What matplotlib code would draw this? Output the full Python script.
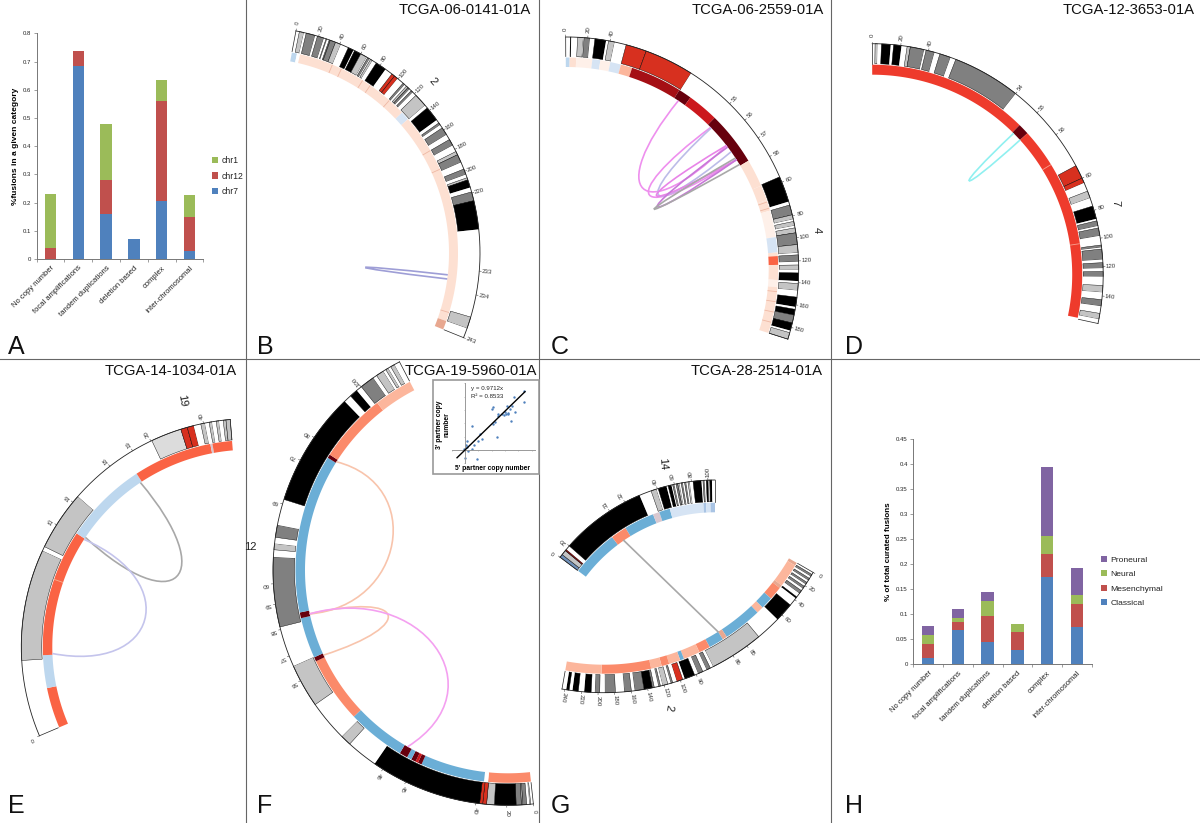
import numpy as np
import matplotlib
matplotlib.use("Agg")
import matplotlib.pyplot as plt
from matplotlib.patches import PathPatch, Rectangle
from matplotlib.path import Path

plt.rcParams["font.family"] = ["Liberation Sans", "DejaVu Sans"]

W, H = 1200, 823

# bar panels
cats = ["No copy number", "focal amplifications", "tandem duplications",
        "deletion based", "complex", "inter-chromosomal"]
a_chr7 = [0, 0.685, 0.16, 0.07, 0.205, 0.03]
a_chr12 = [0.038, 0.052, 0.12, 0, 0.355, 0.12]
a_chr1 = [0.193, 0, 0.2, 0, 0.073, 0.077]
h_classical = [0.012, 0.069, 0.045, 0.029, 0.174, 0.075]
h_mesenchymal = [0.028, 0.016, 0.052, 0.035, 0.046, 0.046]
h_neural = [0.018, 0.007, 0.03, 0.017, 0.036, 0.018]
h_proneural = [0.018, 0.018, 0.018, 0, 0.139, 0.053]

# inset scatter F
sc_x = [0.12, 0.05, 0.12, -0.05, 0.2, 0.5, 0.55, 0, 0.87, 1.12, 1.25, 1, 0.7, 2.38, 2.12,
        2.05, 2.25, 2.12, 2.45, 2.5, 2.75, 3, 3.12, 3.25, 3.45, 3.37, 3.55, 3.7, 3.75,
        4.45, 4.45, 2.9, 3.05, 3.2]
sc_y = [0.7, 0.4, 0.25, 0.08, -0.05, 0.08, 1.82, -0.6, -0.68, 1.2, 0.83, 0.7, 0.4, 0.95,
        3.2, 3.08, 2.08, 1.95, 2.58, 2.7, 2.7, 2.82, 3.32, 2.7, 2.2, 3.08, 3.32, 3.95, 2.82,
        3.58, 4.45, 2.6, 2.7, 2.75]
fit_x = [-0.6, 4.5]
fit_slope = 0.9712

# chromosome 2, sample 0141
b_mb = [0, 20, 40, 60, 80, 100, 120, 140, 160, 180, 200, 220, 227, 233, 234, 243]
b_deg = [10.7, 16.6, 22.3, 28.2, 33.9, 39.6, 45.2, 50.9, 57, 62.7, 68.8, 74.6, 84, 94.6, 100.7, 112]
b_labels = ["0", "20", "40", "60", "80", "100", "120", "140", "160", "180", "200", "220", "", "233", "234", "243"]
b_edges = [0, 3, 7, 9, 17, 19, 25, 27, 28, 30, 31, 36, 41, 48, 53, 54, 60, 66, 67, 69, 70, 72, 76, 86, 93, 96,
           99.5, 106, 108, 110, 112, 114, 116, 118, 122, 134, 137, 150, 153, 155, 158, 165, 170, 176, 182,
           185, 192, 198, 203, 206, 208, 215, 219, 221.5, 227, 238.6, 241, 243]
b_tones = "wlwdwdwdwddlwkwklwdwlwkwrrwdwldwdwlwkwdwdwdwldwdwlkwdkwlw"
b_heat = [0, 5, 8, 124.6, 133.4, 241, 243]
b_heat_c = "qwauan"
b_marks = [41, 50.5, 74, 83, 107, 170, 190, 239]

# chromosome 4, sample 2559
c_mb = [0, 20, 40, 55, 56, 57, 58, 60, 80, 100, 120, 140, 160, 180, 191]
c_deg = [-0.25, 5.2, 10.8, 44.6, 50.1, 55.6, 61, 68, 76.8, 82.2, 88, 93.4, 98.9, 104.6, 107.6]
c_labels = ["0", "20", "40", "55", "56", "57", "58", "60", "80", "100", "120", "140", "160", "180", ""]
c_edges = [0, 4.2, 5, 10.8, 16, 16.7, 22, 26.4, 36.4, 38.6, 40.5, 41.8, 44.1, 49.6, 59.6, 71.6, 73.6, 79.3,
           83, 85, 89, 91, 95.6, 106, 113, 114.8, 120.7, 123.7, 128, 131, 138.5, 140.7, 147, 153, 161.8,
           163.9, 169, 176, 183, 184.9, 191]
c_tones = "wkwlwdwkwlwrrwkwdlwlwldlwdwlwkwlwkwkdkwl"
c_heat = [0, 3.9, 10.4, 26.4, 34.2, 40.5, 41.8, 43.2, 49.5, 51.1, 54.9, 57.67, 59.66, 66.8, 73.6, 96.7,
          111.4, 114.8, 123.3, 138.5, 145.6, 191]
c_heat_c = "qavuvusDKRKaaavuaeava"
c_marks = [68, 72, 150, 160, 170, 180]
c_links = [(50.1, 56.4), (55.16, 57.3), (55.2, 56.8), (56.4, 57.3), (56.5, 57.3), (57.6, 57.2)]
c_apex = [(43.5, 111), (48.2, 111), (51.1, 118), (50.8, 116), (55.5, 110), (55.6, 106)]
c_link_c = ["#ee90ee", "#ee90ee", "#bcbce8", "#e884e8", "#c878d8", "#a8a8a8"]

# chromosome 7, sample 3653
d_mb = [0, 20, 40, 54, 55, 56, 60, 80, 100, 120, 140, 159]
d_deg = [0, 7.1, 14.1, 38.4, 45.5, 52.7, 65.3, 73.8, 80.9, 88, 95.3, 102.2]
d_labels = ["0", "20", "40", "54", "55", "56", "60", "80", "100", "120", "140", ""]
d_edges = [0, 2, 3.7, 6.5, 13, 15, 20.6, 24.6, 26.9, 36.9, 38.3, 40.9, 41.7, 43.3, 44.1, 54, 58.9, 60, 63, 68.2,
           72.5, 77.4, 86.2, 87.6, 91.3, 92.7, 98.3, 104.8, 106.5, 107.6, 115, 117.2, 121, 123.3, 126.8,
           132.8, 137.5, 142.5, 147, 152, 156, 159]
d_tones = "wlwkwkwldwdwdwdwrrwlwkwdwdwdwdwdwdwlwdwlw"
d_heat = [0, 54.87, 55.3, 158]
d_heat_c = "cKc"
d_marks = [57.8, 101.7]

# chromosome 19, sample 1034
e_mb = [0, 15, 16, 18, 19, 20, 40, 59]
e_deg = [-113, -57.7, -50.7, -37.7, -30.8, -25.6, -11.6, -4.8]
e_labels = ["0", "15", "16", "18", "19", "20", "40", ""]
e_edges = [0, 5.3, 13, 13.3, 16.3, 20.4, 31.6, 34, 36.4, 39, 41, 44, 46, 49, 51, 54, 56, 59]
e_tones = "wlwlwprrwlwlwlwll"
e_heat = [0, 3.1, 5.6, 15.14, 18.67, 42, 43.6, 59]
e_heat_c = "eqeqeye"
e_marks = [11.4]
e_links = [(15.2, 18.6), (15.1, 5.7)]
e_apex = [(-46, 101), (-75.7, 108)]
e_link_c = ["#a8a8a8", "#c4c4ec"]

# chromosome 12, sample 5960
f_mb = [0, 20, 40, 45, 46, 56, 57, 58, 59, 60, 69, 70, 80, 100, 132]
f_deg = [173.8, 180.3, 187.9, 205.8, 212.2, 242, 248.6, 255.4, 261.7, 266.7, 286.4, 297.9, 304.4, 321.3, 332.5]
f_labels = ["0", "20", "40", "45", "46", "56", "57", "58", "59", "60", "69", "70", "80", "100", ""]
f_edges = [0, 2, 3, 5, 8, 9, 13, 28, 33, 35.5, 37.5, 46.8, 49.4, 50.3, 53.7, 56.6, 58.1, 63, 63.8, 64.5,
           65.2, 66.6, 69.1, 93.7, 96, 98.4, 100.2, 110.6, 113.4, 119, 121, 123, 125, 128, 132]
f_tones = "wlwdldklrrkwlwlwdwlwdwkwkwdwlwlwlw"
f_heat = [0, 33.4, 36.3, 44.5, 44.8, 45, 45.2, 45.4, 45.75, 50.8, 56.4, 56.58, 58.25, 58.5, 76.3, 77.8, 102, 132]
f_heat_c = "owBKRKBKBoKBKBKos"
f_links = [(76.8, 58.35), (56.5, 58.35), (58.35, 45.6)]
f_apex = [(283, 119), (249.6, 128), (223.7, 105.6)]
f_link_c = ["#f8c4ac", "#f8c4ac", "#f4a0f0"]

# chromosomes 14 and 2, sample 2514
g14_mb = [0, 20, 31, 32, 40, 60, 80, 100, 107]
g14_deg = [-53, -48.7, -32.9, -27.7, -17.3, -12.1, -7, -2.1, 0]
g14_labels = ["0", "20", "31", "32", "40", "60", "80", "100", ""]
g14_edges = [0, 4.7, 11.6, 14, 20, 35.7, 38.5, 39.8, 41, 50.8, 52.7, 56.6, 58, 60, 62, 64, 66, 68, 70, 72,
             74, 76, 78, 80, 82, 92.2, 94, 96, 98, 100, 102, 104, 107]
g14_tones = "blxwkwlwkwkwdwdlwdwdwlwwkwdwklkw"
g14_heat = [0, 28.2, 31.27, 37, 38.7, 47.7, 92.7, 96.3, 102, 107]
g14_heat_c = "BoByBuhuh"

g2_mb = [0, 20, 40, 60, 85, 86, 90, 100, 120, 140, 160, 180, 200, 220, 240, 243]
g2_deg = [120.2, 123.9, 128, 132.7, 143.8, 147.8, 157.6, 161.6, 165.6, 169.6, 173.5, 177.5, 181.4, 185.3, 189.3, 190]
g2_labels = ["0", "20", "40", "60", "85", "86", "90", "100", "120", "140", "160", "180", "200", "220", "240", ""]
g2_edges = [0, 3, 6, 9, 12, 15, 18, 21, 24, 27, 31, 36, 38, 47, 63.4, 77, 88.2, 88.5, 88.9, 89.3, 89.8, 91, 97.3,
            98.5, 104.5, 109.5, 112, 115.5, 122, 124.5, 127, 132, 134.5, 144.5, 156, 160, 168.5, 179, 191.8,
            198, 204, 208.5, 217, 221, 224, 231, 235, 238.5, 243]
g2_tones = "wdwdwdwdwdwkwkwlwdwdwkwrwdwlwdwdkdwdwdwdwkwwkwkw"
g2_heat = [0, 4.3, 36, 40, 55, 64.5, 68.6, 85.7, 86, 87.6, 88.8, 93.5, 96, 107, 117, 131, 195.9, 243]
g2_heat_c = "nsnoBsBnBosBsosos"

tone = {"w": "#ffffff", "k": "#000000", "d": "#808080", "l": "#c4c4c4", "p": "#dcdcdc",
        "r": "#d7301f", "b": "#6f8fb8", "x": "#7a1414"}
heat = {"a": "#fde0d2", "v": "#fef0e9", "s": "#fcb69c", "o": "#fb8a6a", "c": "#ee3b2c", "e": "#fa6344",
        "R": "#cb181d", "D": "#a50f15", "K": "#67000d", "B": "#6baed6", "q": "#bdd7ee", "u": "#d6e4f4",
        "h": "#a9c4e4", "y": "#d8c8d0", "n": "#e8a890", "w": "#ffffff"}

fig = plt.figure(figsize=(W / 100, H / 100), dpi=100, facecolor="white")
ax = fig.add_axes([0, 0, 1, 1])
ax.set_xlim(0, W)
ax.set_ylim(H, 0)
ax.axis("off")


def px_axes(x0, y0, x1, y1):
    return fig.add_axes([x0 / W, 1 - y1 / H, (x1 - x0) / W, (y1 - y0) / H])


def pt(p, r, deg):
    t = np.radians(deg)
    return p["cx"] + r * np.sin(t), p["cy"] - r * np.cos(t)


def ring(p, r0, r1, a0, a1, color, edge="none", lw=0):
    a = np.linspace(a0, a1, max(int(abs(a1 - a0) * 2) + 2, 2))
    x0, y0 = pt(p, r0, a)
    x1, y1 = pt(p, r1, a[::-1])
    ax.fill(np.r_[x0, x1], np.r_[y0, y1], facecolor=color, edgecolor=edge, linewidth=lw)


def to_deg(p, mb):
    return np.interp(mb, p["mb"], p["deg"])


def draw_arc(p, edges, tones, heat_edges, heat_cols, labels, marks=(), mark_color="#eeb8a4"):
    # ideogram, then the copy number ring inside it
    for a, b, c in zip(edges[:-1], edges[1:], tones, strict=True):
        edge = "none" if c == "w" else "black"
        ring(p, p["r"][0], p["r"][1], to_deg(p, a), to_deg(p, b), tone[c], edge, 0.3)
    for a, b, c in zip(heat_edges[:-1], heat_edges[1:], heat_cols, strict=True):
        ring(p, p["r"][1] - 1, p["r"][2], to_deg(p, a), to_deg(p, b), heat[c])
    for m in marks:
        d = to_deg(p, m)
        xs, ys = pt(p, np.array([p["r"][1] - 1, p["r"][2]]), d)
        ax.plot(xs, ys, color=mark_color, lw=0.6, solid_capstyle="butt")
    a = np.linspace(p["deg"][0], p["deg"][-1], 300)
    x, y = pt(p, p["r"][0], a)
    ax.plot(x, y, color="#222222", lw=0.6)
    for d in (p["deg"][0], p["deg"][-1]):
        xs, ys = pt(p, np.array([p["r"][0], p["r"][1]]), d)
        ax.plot(xs, ys, color="#222222", lw=0.5)
    for d, s in zip(p["deg"], labels):
        if s == "":
            continue
        xs, ys = pt(p, np.array([p["r"][0], p["r"][0] + 2]), d)
        ax.plot(xs, ys, color="#444444", lw=0.4)
        tx, ty = pt(p, p["r"][0] + 8, d)
        ax.text(tx, ty, s, fontsize=4.4, color="#333333", rotation=90 - d, ha="center", va="center",
                rotation_mode="anchor")


def draw_link(p, mb0, mb1, apex, color):
    # apex is where the ribbon turns, polar around the panel centre
    p0 = np.array(pt(p, p["r"][2], to_deg(p, mb0)))
    p1 = np.array(pt(p, p["r"][2], to_deg(p, mb1)))
    top = np.array(pt(p, apex[1], apex[0]))
    q = (8 * top - p0 - p1) / 6
    # spread the two controls so the turn is round, not pointed
    c0 = q + 0.4 * (p0 - p1)
    c1 = q - 0.4 * (p0 - p1)
    path = Path([p0, c0, c1, p1], [Path.MOVETO, Path.CURVE4, Path.CURVE4, Path.CURVE4])
    ax.add_patch(PathPatch(path, fc="none", ec=color, lw=1.2))


panel_b = {"cx": 254, "cy": 253, "r": (226, 205, 195), "mb": b_mb, "deg": b_deg}
draw_arc(panel_b, b_edges, b_tones, b_heat, b_heat_c, b_labels, b_marks)
draw_link(panel_b, 233.3, 233.5, (97.4, 112), "#9e9ed6")

panel_c = {"cx": 566.7, "cy": 269, "r": (232, 212.5, 202), "mb": c_mb, "deg": c_deg}
draw_arc(panel_c, c_edges, c_tones, c_heat, c_heat_c, c_labels, c_marks)
for (m0, m1), ap, col in zip(c_links, c_apex, c_link_c):
    draw_link(panel_c, m0, m1, ap, col)

panel_d = {"cx": 872.2, "cy": 274.7, "r": (231, 211, 200), "mb": d_mb, "deg": d_deg}
draw_arc(panel_d, d_edges, d_tones, d_heat, d_heat_c, d_labels, d_marks, "#f8a090")
draw_link(panel_d, 54.93, 55.3, (45.9, 135), "#90f0f0")

panel_e = {"cx": 249.3, "cy": 646.7, "r": (228, 207.5, 197), "mb": e_mb, "deg": e_deg}
draw_arc(panel_e, e_edges, e_tones, e_heat, e_heat_c, e_labels, e_marks, "#f8b090")
for (m0, m1), ap, col in zip(e_links, e_apex, e_link_c):
    draw_link(panel_e, m0, m1, ap, col)

panel_f = {"cx": 508, "cy": 570.3, "r": (235, 213.5, 203), "mb": f_mb, "deg": f_deg}
draw_arc(panel_f, f_edges, f_tones, f_heat, f_heat_c, f_labels)
for (m0, m1), ap, col in zip(f_links, f_apex, f_link_c):
    draw_link(panel_f, m0, m1, ap, col)

panel_g14 = {"cx": 715, "cy": 674, "r": (194, 172.3, 161.7), "mb": g14_mb, "deg": g14_deg}
draw_arc(panel_g14, g14_edges, g14_tones, g14_heat, g14_heat_c, g14_labels)
panel_g2 = {"cx": 604, "cy": 450.7, "r": (242, 224, 214), "mb": g2_mb, "deg": g2_deg}
draw_arc(panel_g2, g2_edges, g2_tones, g2_heat, g2_heat_c, g2_labels)
x0, y0 = pt(panel_g14, 161.7, to_deg(panel_g14, 30))
x1, y1 = pt(panel_g2, 214, to_deg(panel_g2, 86))
ax.plot([x0, x1], [y0, y1], color="#a8a8a8", lw=1.2)

# chromosome names
names = ["2", "4", "7", "19", "12", "14", "2"]
name_x = [432.7, 817, 1115, 181.7, 250, 663, 669]
name_y = [81.7, 230, 202.7, 400.7, 546.7, 464, 708]
name_rot = [-50, -90, -90, -80, 0, -85, -100]
for s, x, y, r in zip(names, name_x, name_y, name_rot):
    ax.text(x, y, s, fontsize=8, rotation=r, ha="center", va="center", color="#222222")

# sample ids
titles = ["TCGA-06-0141-01A", "TCGA-06-2559-01A", "TCGA-12-3653-01A",
          "TCGA-14-1034-01A", "TCGA-19-5960-01A", "TCGA-28-2514-01A"]
title_x = [531, 824, 1195, 237, 537, 823]
title_y = [10, 10, 10, 371, 371, 371]
for s, x, y in zip(titles, title_x, title_y):
    ax.text(x, y, s, fontsize=10.7, ha="right", va="center", color="#111111")

letters = "ABCDEFGH"
letter_x = [8, 257, 551, 845, 8, 257, 551, 845]
letter_y = [354, 354, 354, 354, 813, 813, 813, 813]
for s, x, y in zip(letters, letter_x, letter_y):
    ax.text(x, y, s, fontsize=18, ha="left", va="baseline", color="#111111")

# panel separators
for x in [245.5, 538.5, 831]:
    ax.plot([x, x], [0, 823], color="#666666", lw=0.8)
ax.plot([0, W], [358.5, 358.5], color="#666666", lw=0.8)


def stacked(box, series, names, colors, ymax, step, tick_fmt, ylabel, ylab_size, leg_xy, leg_size):
    bx = px_axes(*box)
    bx.patch.set_alpha(0)
    pos = np.arange(len(cats))
    base = np.zeros(len(cats))
    for vals, name, col in zip(series, names, colors):
        bx.bar(pos, vals, 0.42, bottom=base, color=col, label=name)
        base += np.array(vals)
    bx.set_xlim(-0.5, 5.5)
    bx.set_ylim(0, ymax)
    yt = np.arange(0, ymax + step / 2, step)
    bx.set_yticks(yt)
    bx.set_yticklabels([tick_fmt(v) for v in yt], fontsize=4.3, color="#222222")
    bx.set_xticks(np.arange(-0.5, 6, 1), minor=True)
    bx.set_xticks(pos)
    bx.set_xticklabels(cats, rotation=45, ha="right", rotation_mode="anchor", fontsize=5.5, color="#222222")
    bx.tick_params(axis="x", which="major", length=0, pad=4)
    bx.tick_params(axis="x", which="minor", length=2, width=0.5, color="#777777")
    bx.tick_params(axis="y", length=2, width=0.5, color="#777777", pad=2)
    for s in ["top", "right"]:
        bx.spines[s].set_visible(False)
    for s in ["left", "bottom"]:
        bx.spines[s].set_color("#777777")
        bx.spines[s].set_linewidth(0.7)
    bx.set_ylabel(ylabel, fontsize=ylab_size, fontweight="bold", labelpad=3)
    h, l = bx.get_legend_handles_labels()
    fig.legend(h[::-1], l[::-1], loc="center left", bbox_to_anchor=(leg_xy[0] / W, 1 - leg_xy[1] / H),
               frameon=False, fontsize=leg_size, handlelength=0.7, handleheight=0.7, handletextpad=0.4,
               labelspacing=0.75, borderpad=0, borderaxespad=0, labelcolor="#222222")


blue, red, green, purple = "#4f81bd", "#c0504d", "#9bbb59", "#8064a2"
stacked((36.7, 33.3, 203.3, 259), [a_chr7, a_chr12, a_chr1], ["chr7", "chr12", "chr1"], [blue, red, green],
        0.8, 0.1, lambda v: "0" if v == 0 else f"{v:.1f}", "%fusions in a given category", 6, (212, 176), 6.2)
stacked((913.3, 439, 1091.7, 664.3), [h_classical, h_mesenchymal, h_neural, h_proneural],
        ["Classical", "Mesenchymal", "Neural", "Proneural"], [blue, red, green, purple],
        0.45, 0.05, lambda v: "0" if v == 0 else f"{v:.2f}".rstrip("0"), "% of total curated fusions", 5.8,
        (1101, 581.5), 6.1)

# inset in F
ax.add_patch(Rectangle((433, 380), 106, 94, fc="white", ec="#999999", lw=1.2, zorder=5))
ix = px_axes(451.7, 383.3, 535, 463.3)
ix.patch.set_alpha(0)
ix.set_xlim(-1, 5.25)
ix.set_ylim(-1, 5)
ix.scatter(sc_x, sc_y, s=3, color="#4f81bd", linewidths=0, zorder=2)
ix.plot(fit_x, [v * fit_slope for v in fit_x], color="black", lw=1, zorder=3)
for s in ["top", "right"]:
    ix.spines[s].set_visible(False)
for s in ["left", "bottom"]:
    ix.spines[s].set_position("zero")
    ix.spines[s].set_color("#999999")
    ix.spines[s].set_linewidth(0.7)
ix.set_xticks(range(-1, 6))
ix.set_yticks(range(-1, 6))
ix.set_xticklabels([])
ix.set_yticklabels([])
ix.tick_params(length=1, width=0.4, color="#999999")
ax.text(470.7, 388, "y = 0.9712x", fontsize=4.4, ha="left", va="center", zorder=6, color="#222222")
ax.text(470.7, 396.7, "R² = 0.8533", fontsize=4.4, ha="left", va="center", zorder=6, color="#222222")
ax.text(492.5, 468, "5' partner copy number", fontsize=4.9, fontweight="bold", ha="center", va="center", zorder=6)
ax.text(443, 425, "3' partner copy\nnumber", fontsize=4.9, fontweight="bold", rotation=90, ha="center", va="center",
        zorder=6, linespacing=1.1)

fig.savefig("out.png", dpi=100)
